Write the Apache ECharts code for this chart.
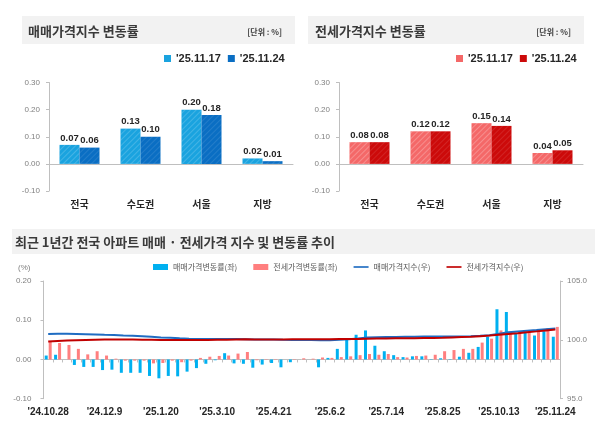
<!DOCTYPE html>
<html>
<head>
<meta charset="utf-8">
<script src="https://cdn.jsdelivr.net/npm/echarts@6/dist/echarts.min.js"></script>
<style>
  html, body { margin: 0; padding: 0; background: #fff; }
  #main { width: 600px; height: 427px; }
</style>
</head>
<body>
<div id="main"></div>
<script>
// 상단 막대 (지역별 변동률)
var regions = ['전국', '수도권', '서울', '지방'];
var weekA = "'25.11.17";
var weekB = "'25.11.24";
var saleA = [0.07, 0.13, 0.20, 0.02];
var saleB = [0.06, 0.10, 0.18, 0.01];
var jeonseA = [0.08, 0.12, 0.15, 0.04];
var jeonseB = [0.08, 0.12, 0.14, 0.05];

// 하단 추이 (주간)
var weeks = ["'24.10.28", "'24.11.4", "'24.11.11", "'24.11.18", "'24.11.25", "'24.12.2",
  "'24.12.9", "'24.12.16", "'24.12.23", "'24.12.30", "'25.1.6", "'25.1.13",
  "'25.1.20", "'25.2.3", "'25.2.10", "'25.2.17", "'25.2.24", "'25.3.3",
  "'25.3.10", "'25.3.17", "'25.3.24", "'25.3.31", "'25.4.7", "'25.4.14",
  "'25.4.21", "'25.4.28", "'25.5.5", "'25.5.12", "'25.5.19", "'25.5.26",
  "'25.6.2", "'25.6.9", "'25.6.16", "'25.6.23", "'25.6.30", "'25.7.7",
  "'25.7.14", "'25.7.21", "'25.7.28", "'25.8.4", "'25.8.11", "'25.8.18",
  "'25.8.25", "'25.9.1", "'25.9.8", "'25.9.15", "'25.9.22", "'25.9.29",
  "'25.10.13", "'25.10.20", "'25.10.27", "'25.11.3", "'25.11.10", "'25.11.17",
  "'25.11.24"];
var saleRate = [0.010, 0.012, 0.000, -0.014, -0.019, -0.019,
  -0.027, -0.026, -0.034, -0.034, -0.034, -0.042,
  -0.048, -0.042, -0.043, -0.031, -0.022, -0.011,
  -0.002, 0.016, -0.010, -0.011, -0.021, -0.013,
  -0.009, -0.020, -0.007, 0.000, 0.000, -0.020,
  0.004, 0.027, 0.050, 0.063, 0.074, 0.035,
  0.021, 0.011, 0.006, 0.008, 0.008, 0.001,
  0.003, 0.001, 0.007, 0.017, 0.032, 0.058,
  0.128, 0.121, 0.065, 0.070, 0.061, 0.072,
  0.058];
var jeonseRate = [0.045, 0.042, 0.037, 0.027, 0.013, 0.021,
  0.010, 0.002, -0.003, -0.003, -0.003, -0.010,
  -0.009, -0.003, -0.007, -0.003, 0.004, 0.007,
  0.009, 0.010, 0.015, 0.019, -0.002, -0.001,
  0.001, 0.000, 0.001, 0.003, 0.002, 0.005,
  0.004, 0.006, 0.008, 0.011, 0.014, 0.012,
  0.014, 0.006, 0.005, 0.009, 0.010, 0.012,
  0.021, 0.024, 0.027, 0.027, 0.043, 0.053,
  0.074, 0.070, 0.068, 0.073, 0.076, 0.080,
  0.083];
var saleIndex = [100.50, 100.51, 100.51, 100.50, 100.48, 100.46,
  100.43, 100.41, 100.37, 100.34, 100.30, 100.26,
  100.21, 100.17, 100.13, 100.10, 100.08, 100.07,
  100.07, 100.08, 100.07, 100.06, 100.04, 100.03,
  100.02, 100.00, 99.99, 99.99, 99.99, 99.97,
  99.97, 100.00, 100.05, 100.11, 100.19, 100.22,
  100.24, 100.25, 100.26, 100.27, 100.28, 100.28,
  100.28, 100.28, 100.29, 100.31, 100.34, 100.40,
  100.52, 100.64, 100.71, 100.78, 100.84, 100.91,
  100.97];
var jeonseIndex = [99.86, 99.90, 99.94, 99.97, 99.99, 100.01,
  100.02, 100.02, 100.02, 100.02, 100.01, 100.00,
  99.99, 99.99, 99.98, 99.98, 99.98, 99.99,
  100.00, 100.01, 100.03, 100.05, 100.04, 100.04,
  100.04, 100.04, 100.05, 100.05, 100.05, 100.06,
  100.06, 100.07, 100.07, 100.08, 100.10, 100.11,
  100.12, 100.13, 100.13, 100.14, 100.15, 100.16,
  100.18, 100.21, 100.24, 100.26, 100.31, 100.36,
  100.43, 100.50, 100.57, 100.65, 100.72, 100.80,
  100.88];

var KR = "'Noto Sans CJK KR', sans-serif";
var NUM = "'Liberation Sans', Arial, sans-serif";
var AXIS_GRAY = '#bfbfbf';
var LINE_ICON = 'path://M0,0H20V2.2H0Z';

var chart = echarts.init(document.getElementById('main'), null, { renderer: 'canvas' });

// 빗금 무늬
function hatch(alpha) {
  return {
    symbol: 'rect', symbolSize: 1, color: 'rgba(255,255,255,' + alpha + ')',
    dashArrayX: [1, 0], dashArrayY: [1, 3], rotation: -Math.PI / 4
  };
}

function topValueAxis(grid) {
  return {
    type: 'value', gridIndex: grid, min: -0.1, max: 0.3, interval: 0.1,
    axisLine: { show: true, lineStyle: { color: AXIS_GRAY } },
    axisTick: { show: true, length: 3, lineStyle: { color: AXIS_GRAY } },
    splitLine: { show: false },
    axisLabel: { fontSize: 8, color: '#808080', fontFamily: NUM, margin: 9,
      formatter: function (v) { return v.toFixed(2); } }
  };
}
function labelAxis(grid, data, opt) {
  return Object.assign({
    type: 'category', gridIndex: grid, data: data, position: 'bottom',
    axisLine: { show: false, onZero: false }, axisTick: { show: false }
  }, opt);
}
function zeroAxis(grid, data, ticks) {
  return {
    type: 'category', gridIndex: grid, data: data, position: 'bottom',
    axisLine: { show: true, onZero: true, lineStyle: { color: AXIS_GRAY } },
    axisTick: { show: ticks, length: 3, interval: 0, lineStyle: { color: AXIS_GRAY } },
    axisLabel: { show: false }
  };
}
function topBar(name, data, xi, yi, color, alpha) {
  return {
    name: name, type: 'bar', xAxisIndex: xi, yAxisIndex: yi, data: data,
    barWidth: 20, barGap: '0%',
    itemStyle: { color: color, decal: hatch(alpha) },
    label: { show: true, position: 'top', distance: 2, fontSize: 9.5, fontWeight: 'bold',
      color: '#262626', fontFamily: NUM,
      formatter: function (p) { return p.value.toFixed(2); } }
  };
}

var catLabel = { fontSize: 10, fontWeight: 'bold', color: '#262626', fontFamily: KR, margin: 8 };
var topLegendText = { fontSize: 11, fontWeight: 'bold', color: '#262626', fontFamily: NUM };

var option = {
  animation: false,
  graphic: [
    { type: 'rect', shape: { x: 22, y: 16, width: 273, height: 28 }, style: { fill: '#f2f2f2' } },
    { type: 'rect', shape: { x: 308, y: 16, width: 276, height: 28 }, style: { fill: '#f2f2f2' } },
    { type: 'rect', shape: { x: 12, y: 229, width: 583, height: 25 }, style: { fill: '#f2f2f2' } },
    { type: 'text', x: 28, y: 31, style: { text: '매매가격지수 변동률', font: 'bold 13px ' + KR, fill: '#3a3a3a', verticalAlign: 'middle' } },
    { type: 'text', x: 282, y: 32, style: { text: '[단위 : %]', font: 'bold 8px ' + KR, fill: '#404040', align: 'right', verticalAlign: 'middle' } },
    { type: 'text', x: 315, y: 31, style: { text: '전세가격지수 변동률', font: 'bold 13px ' + KR, fill: '#3a3a3a', verticalAlign: 'middle' } },
    { type: 'text', x: 571, y: 32, style: { text: '[단위 : %]', font: 'bold 8px ' + KR, fill: '#404040', align: 'right', verticalAlign: 'middle' } },
    { type: 'text', x: 15, y: 242, style: { text: '최근 1년간 전국 아파트 매매 · 전세가격 지수 및 변동률 추이', font: 'bold 13px ' + KR, fill: '#3a3a3a', verticalAlign: 'middle' } },
    { type: 'text', x: 18, y: 268, style: { text: '(%)', font: '8px ' + NUM, fill: '#808080', verticalAlign: 'middle' } }
  ],
  legend: [
    { left: 159, top: 48, itemWidth: 7, itemHeight: 7, itemGap: 7, icon: 'rect',
      textStyle: topLegendText,
      data: [{ name: weekA, itemStyle: { color: '#1aa3df', decal: 'none' } },
             { name: weekB, itemStyle: { color: '#0a6ec3', decal: 'none' } }] },
    { left: 451, top: 48, itemWidth: 7, itemHeight: 7, itemGap: 7, icon: 'rect',
      textStyle: topLegendText,
      data: [{ name: weekA, itemStyle: { color: '#f46868', decal: 'none' } },
             { name: weekB, itemStyle: { color: '#cc0a0a', decal: 'none' } }] },
    { left: 148, top: 258, itemWidth: 15, itemHeight: 6, itemGap: 16,
      textStyle: { fontSize: 8, color: '#595959', fontFamily: KR },
      data: [{ name: '매매가격변동률(좌)', icon: 'rect' },
             { name: '전세가격변동률(좌)', icon: 'rect' },
             { name: '매매가격지수(우)', icon: LINE_ICON },
             { name: '전세가격지수(우)', icon: LINE_ICON }] }
  ],
  grid: [
    { left: 49, top: 82.5, width: 244, height: 108.5 },
    { left: 339, top: 82.5, width: 244, height: 108.5 },
    { left: 43.5, top: 281, width: 516.5, height: 117.7 }
  ],
  xAxis: [
    labelAxis(0, regions, { axisLabel: catLabel }),
    zeroAxis(0, regions, false),
    labelAxis(1, regions, { axisLabel: catLabel }),
    zeroAxis(1, regions, false),
    labelAxis(2, weeks, { axisLabel: { interval: 5, fontSize: 10, fontWeight: 'bold', color: '#262626', fontFamily: NUM, margin: 9 } }),
    zeroAxis(2, weeks, true)
  ],
  yAxis: [
    topValueAxis(0),
    topValueAxis(1),
    { type: 'value', gridIndex: 2, min: -0.1, max: 0.2, interval: 0.1,
      axisLine: { show: true, lineStyle: { color: AXIS_GRAY } },
      axisTick: { show: true, length: 3, lineStyle: { color: AXIS_GRAY } },
      splitLine: { show: false },
      axisLabel: { fontSize: 8, color: '#808080', fontFamily: NUM, margin: 12,
        formatter: function (v) { return v.toFixed(2); } } },
    { type: 'value', gridIndex: 2, position: 'right', min: 95, max: 105, interval: 5,
      axisLine: { show: true, lineStyle: { color: AXIS_GRAY } },
      axisTick: { show: true, length: 3, lineStyle: { color: AXIS_GRAY } },
      splitLine: { show: false },
      axisLabel: { fontSize: 8, color: '#808080', fontFamily: NUM, margin: 7,
        formatter: function (v) { return v.toFixed(1); } } }
  ],
  series: [
    topBar(weekA, saleA, 0, 0, '#1aa3df', 0.18),
    topBar(weekB, saleB, 0, 0, '#0a6ec3', 0.1),
    topBar(weekA, jeonseA, 2, 1, '#f46868', 0.25),
    topBar(weekB, jeonseB, 2, 1, '#cc0a0a', 0.1),
    { name: '매매가격변동률(좌)', type: 'bar', xAxisIndex: 4, yAxisIndex: 2, data: saleRate,
      barWidth: 3, barGap: '33%', itemStyle: { color: '#00b0f0' } },
    { name: '전세가격변동률(좌)', type: 'bar', xAxisIndex: 4, yAxisIndex: 2, data: jeonseRate,
      barWidth: 3, barGap: '33%', itemStyle: { color: '#ff7f7f' } },
    { name: '매매가격지수(우)', type: 'line', xAxisIndex: 4, yAxisIndex: 3, data: saleIndex,
      symbol: 'none', lineStyle: { color: '#1f6cc2', width: 2 }, itemStyle: { color: '#1f6cc2' } },
    { name: '전세가격지수(우)', type: 'line', xAxisIndex: 4, yAxisIndex: 3, data: jeonseIndex,
      symbol: 'none', lineStyle: { color: '#c00000', width: 2 }, itemStyle: { color: '#c00000' } }
  ]
};
chart.setOption(option);
</script>
</body>
</html>
